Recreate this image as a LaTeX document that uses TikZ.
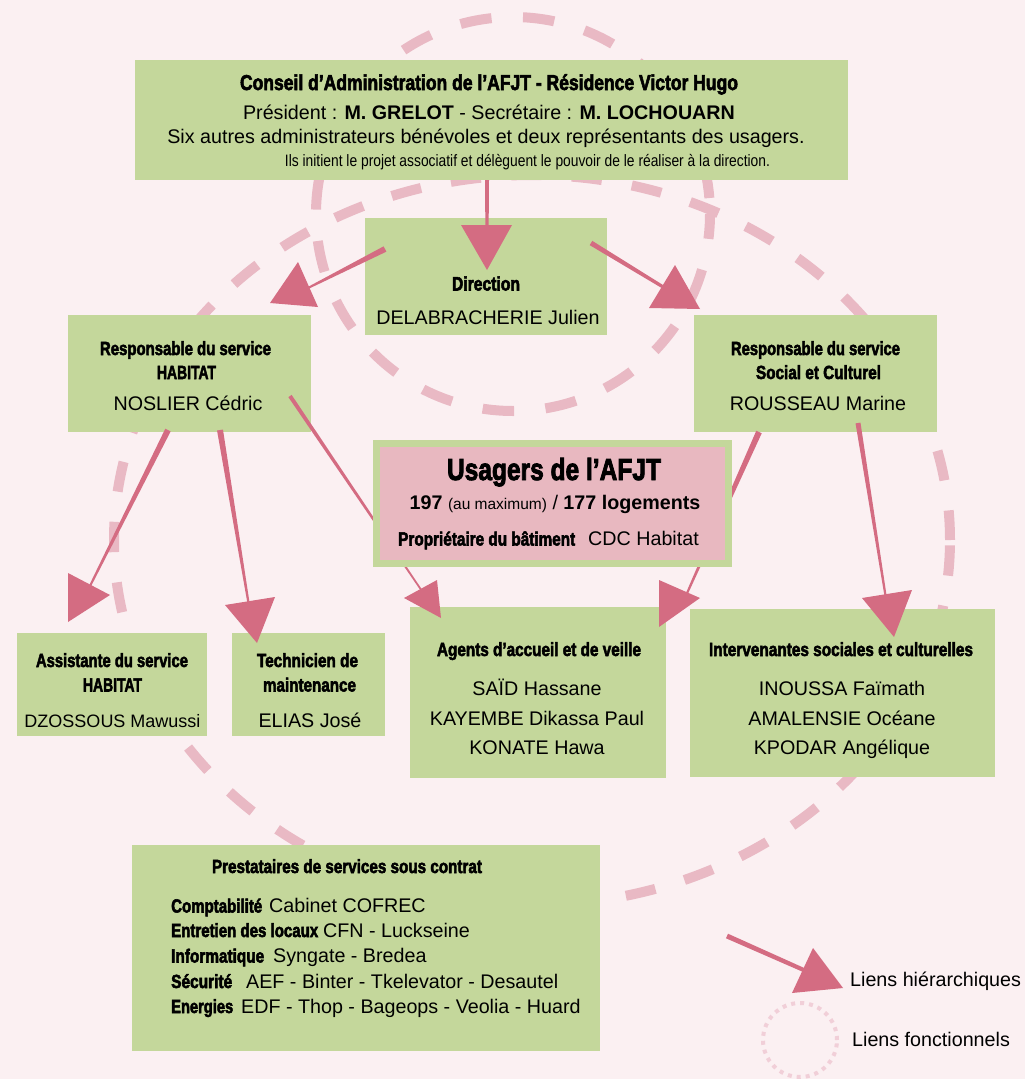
\documentclass[tikz,border=0pt]{standalone}
\usepackage{fontspec}
\usepackage{graphicx}
\setmainfont{Liberation Sans}
\newfontfamily\cndfont{Liberation Sans Bold}[FakeBold=3]
\usetikzlibrary{calc}
\definecolor{bgc}{HTML}{FBF0F2}
\definecolor{boxg}{HTML}{C4D79B}
\definecolor{boxp}{HTML}{E8B8C0}
\definecolor{arr}{HTML}{D46C82}
\definecolor{dsh}{HTML}{E9B9C4}
\definecolor{dotc}{HTML}{F1CFD8}
\newcommand\cb[3]{\resizebox{#2pt}{\height}{\fontsize{#1}{#1}\selectfont\cndfont #3}}
\newcommand\taper[4]{\fill[arr] ($(#1)!#3!90:(#2)$) -- ($(#2)!#4!-90:(#1)$) -- ($(#2)!#4!90:(#1)$) -- ($(#1)!#3!-90:(#2)$) -- cycle;}
\newcommand\head[3]{\fill[arr] #1 -- #2 -- #3 -- cycle;}
\tikzset{
  gbox/.style={fill=boxg, inner sep=0pt, outer sep=0pt},
  txt/.style={inner sep=0pt, anchor=base, font=\fontsize{19.7}{22}\selectfont},
  txtw/.style={txt, anchor=base west},
  fline/.style={draw=dsh, line width=10pt},
}
\begin{document}
\begin{tikzpicture}[x=1pt,y=-1pt]
\fill[bgc] (0,0) rectangle (1025,1079);
\useasboundingbox (0,0) rectangle (1025,1079);
% functional links
\draw[fline, dash pattern=on 30.35pt off 30.35pt, dash phase=0.7pt] (532,540) ellipse [x radius=418pt, y radius=365pt];
\draw[fline, dash pattern=on 31.5pt off 31.5pt, dash phase=47pt] (513,214) circle [radius=197pt];
% boxes
\node[gbox, minimum width=713pt, minimum height=120pt] (ca) at (491.5,120) {};
\node[gbox, minimum width=242pt, minimum height=117pt] (dir) at (486,276.5) {};
\node[gbox, minimum width=243pt, minimum height=117pt] (hab) at (189.5,373.5) {};
\node[gbox, minimum width=243pt, minimum height=117pt] (soc) at (815.5,373.5) {};
\node[gbox, minimum width=190pt, minimum height=103pt] (asst) at (112,684.5) {};
\node[gbox, minimum width=153pt, minimum height=103pt] (tech) at (308.5,684.5) {};
\node[gbox, minimum width=256pt, minimum height=171pt] (agt) at (538,692.5) {};
\node[gbox, minimum width=305pt, minimum height=168pt] (intv) at (842.5,693) {};
\node[gbox, minimum width=468pt, minimum height=206pt] (pre) at (366,948) {};
% texts
\node[txt] (ca1) at (489,90) {\cb{21.5}{498}{Conseil d’Administration de l’AFJT - Résidence Victor Hugo}};
\node[txt] (ca2) at (489,119) {Président : \textbf{M. GRELOT} - Secrétaire : \textbf{M. LOCHOUARN}};
\node[txt] (ca3) at (486,143) {Six autres administrateurs bénévoles et deux représentants des usagers.};
\node[txt] (ca4) at (527.5,166) {\resizebox{485pt}{\height}{\fontsize{16.5}{17}\selectfont Ils initient le projet associatif et délèguent le pouvoir de le réaliser à la direction.}};
\node[txt] (dir1) at (486,290.5) {\cb{19.5}{68}{Direction}};
\node[txt] (dir2) at (488,324) {DELABRACHERIE Julien};
\node[txt] (hab1) at (185.5,355) {\cb{19}{171}{Responsable du service}};
\node[txt] (hab2) at (186.5,379) {\cb{19}{59}{HABITAT}};
\node[txt] (hab3) at (188,410.5) {NOSLIER Cédric};
\node[txt] (soc1) at (815.5,355) {\cb{19}{169}{Responsable du service}};
\node[txt] (soc2) at (818.5,379) {\cb{19}{125}{Social et Culturel}};
\node[txt] (soc3) at (818,410.5) {ROUSSEAU Marine};
\node[txt] (as1) at (112,667) {\cb{19}{152}{Assistante du service}};
\node[txt] (as2) at (112.5,691.5) {\cb{19}{59}{HABITAT}};
\node[txt, font=\fontsize{18}{20}\selectfont] (as3) at (112.5,727) {DZOSSOUS Mawussi};
\node[txt] (te1) at (307.5,667) {\cb{19}{101}{Technicien de}};
\node[txt] (te2) at (309.5,691.5) {\cb{19}{93}{maintenance}};
\node[txt] (te3) at (310,727) {ELIAS José};
\node[txt] (ag1) at (539,656) {\cb{19}{204}{Agents d’accueil et de veille}};
\node[txt] (ag2) at (537,695) {SAÏD Hassane};
\node[txt] (ag3) at (537,725) {KAYEMBE Dikassa Paul};
\node[txt] (ag4) at (537,754) {KONATE Hawa};
\node[txt] (in1) at (841,656) {\cb{19}{264}{Intervenantes sociales et culturelles}};
\node[txt] (in2) at (842,695) {INOUSSA Faïmath};
\node[txt] (in3) at (842,725) {AMALENSIE Océane};
\node[txt] (in4) at (842,754) {KPODAR Angélique};
\node[txt] (pr0) at (347,873) {\cb{19}{270}{Prestataires de services sous contrat}};
\node[txtw] (pr1a) at (171,912.5) {\cb{19}{91}{Comptabilité}};
\node[txtw] (pr1b) at (269,912.5) {Cabinet COFREC};
\node[txtw] (pr2a) at (171,937) {\cb{19}{147}{Entretien des locaux}};
\node[txtw] (pr2b) at (323,937) {CFN - Luckseine};
\node[txtw] (pr3a) at (171,962.5) {\cb{19}{93}{Informatique}};
\node[txtw] (pr3b) at (273,962.5) {Syngate - Bredea};
\node[txtw] (pr4a) at (171,988) {\cb{19}{61}{Sécurité}};
\node[txtw] (pr4b) at (246,988) {AEF - Binter - Tkelevator - Desautel};
\node[txtw] (pr5a) at (171,1013) {\cb{19}{62}{Energies}};
\node[txtw] (pr5b) at (241,1013) {EDF - Thop - Bageops - Veolia - Huard};
% connector coordinates
\coordinate (f0) at (290,396); \coordinate (f1) at (428,600);
\coordinate (g0) at (759,432); \coordinate (g1) at (684,600);
\taper{f0}{f1}{2pt}{0.8pt}
\taper{g0}{g1}{3pt}{1pt}
% usagers box
\node[fill=boxp, draw=boxg, line width=7pt, inner sep=0pt, minimum width=352pt, minimum height=120pt] (usa) at (552.5,503.5) {};
\node[txt] (us1) at (554,480) {\cb{30.5}{214}{Usagers de l’AFJT}};
\node[txt] (us2) at (555,509) {\textbf{197} {\fontsize{15.5}{16}\selectfont (au maximum)} / \textbf{177 logements}};
\node[txtw] (us3a) at (398,545.5) {\cb{19}{177}{Propriétaire du bâtiment}};
\node[txtw] (us3b) at (588,545.5) {CDC Habitat};
% hierarchical links
\coordinate (a0) at (487,180); \coordinate (a1) at (487,245);
\coordinate (b0) at (385,249); \coordinate (b1) at (308,288);
\coordinate (c0) at (591,243); \coordinate (c1) at (673,293);
\coordinate (d0) at (168,430); \coordinate (d1) at (88,590);
\coordinate (e0) at (220,430); \coordinate (e1) at (250,612);
\coordinate (h0) at (858,423); \coordinate (h1) at (887,605);
\taper{a0}{a1}{2pt}{1.5pt}
\taper{b0}{b1}{3pt}{1pt}
\taper{c0}{c1}{2.5pt}{1.5pt}
\taper{d0}{d1}{3pt}{1pt}
\taper{e0}{e1}{3pt}{1pt}
\taper{h0}{h1}{2.5pt}{1pt}
\head{(461,225)}{(512,225)}{(487,270)}
\head{(298,262)}{(270,303)}{(318,307)}
\head{(675,265)}{(649,308)}{(700,309)}
\head{(68,573)}{(68,622)}{(110,595)}
\head{(225,605)}{(275,597)}{(257,643)}
\head{(404,598)}{(437,580)}{(441,618)}
\head{(659,580)}{(700,598)}{(659,627)}
\head{(862,598)}{(912,590)}{(894,637)}
% legend
\coordinate (l0) at (727,936); \coordinate (l1) at (815,975);
\taper{l0}{l1}{2.5pt}{2pt}
\head{(813,948)}{(792,993)}{(843,988)}
\node[txtw] (lg1) at (850,986) {Liens hiérarchiques};
\draw[dotc, line width=4pt, dash pattern=on 4pt off 5pt] (800,1040) circle [radius=37pt];
\node[txtw] (lg2) at (852,1046) {Liens fonctionnels};
\end{tikzpicture}
\end{document}
